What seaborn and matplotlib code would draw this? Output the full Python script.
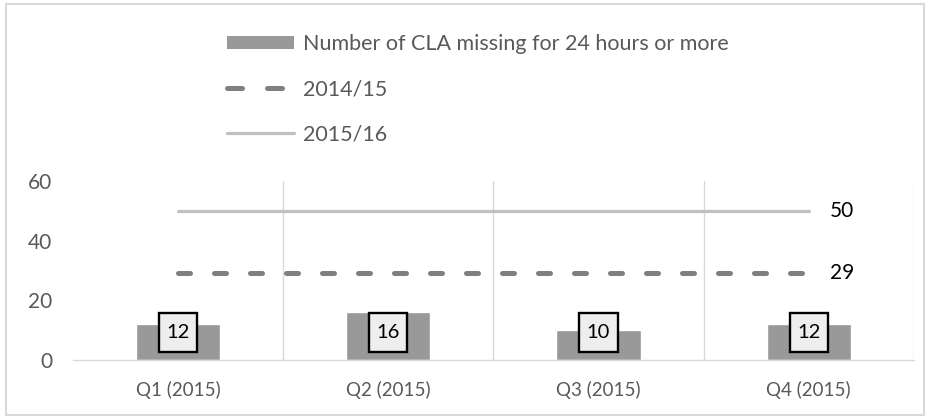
import matplotlib
matplotlib.use("Agg")
import matplotlib.pyplot as plt
from matplotlib.patches import Patch, Rectangle
from matplotlib.lines import Line2D
from matplotlib.path import Path
import seaborn as sns
import pandas as pd

quarters = ["Q1 (2015)", "Q2 (2015)", "Q3 (2015)", "Q4 (2015)"]
missing_24h = [12, 16, 10, 12]
avg_2014_15 = [29, 29, 29, 29]
avg_2015_16 = [50, 50, 50, 50]
y_ticks = [0, 20, 40, 60]

sns.set_theme(style="white")
plt.rcParams["font.family"] = ["Lato", "DejaVu Sans"]

DPI = 100


def label_box(x0, y0, width, height, mutation_size):
    """Fixed-size box (27.5 x 28 pt) centred on the label text."""
    w = 27.5 * DPI / 72
    h = 28 * DPI / 72
    cx = x0 + width / 2
    cy = y0 + height / 2
    verts = [(cx - w / 2, cy - h / 2), (cx + w / 2, cy - h / 2),
             (cx + w / 2, cy + h / 2), (cx - w / 2, cy + h / 2),
             (cx - w / 2, cy - h / 2)]
    codes = [Path.MOVETO] + [Path.LINETO] * 3 + [Path.CLOSEPOLY]
    return Path(verts, codes)


df = pd.DataFrame({"quarter": quarters, "missing": missing_24h})

fig = plt.figure(figsize=(9.29, 4.17), dpi=DPI)
ax = fig.add_axes([0.0786, 0.137, 0.905, 0.429])

sns.barplot(data=df, x="quarter", y="missing", color="#999999", saturation=1,
            width=0.4, ax=ax, zorder=2)

xs = list(range(len(quarters)))
ax.plot(xs, avg_2014_15, color="#7f7f7f", lw=3.6, dashes=(2.4, 4.8),
        dash_capstyle="round", zorder=3)
ax.plot(xs, avg_2015_16, color="#c0c0c0", lw=2.3, zorder=3)

# end labels for the two reference lines
ax.text(xs[-1] + 0.1, avg_2015_16[-1], str(avg_2015_16[-1]), ha="left",
        va="center", fontsize=15, color="black")
ax.text(xs[-1] + 0.1, avg_2014_15[-1], str(avg_2014_15[-1]), ha="left",
        va="center", fontsize=15, color="black")

# boxed value labels near the base of each bar
for x, v in zip(xs, missing_24h):
    ax.annotate(str(v), xy=(x, 0), xytext=(0, 19.5), textcoords="offset points",
                ha="center", va="center", fontsize=14.5, color="black",
                bbox=dict(boxstyle=label_box, fc="#eeeeee",
                          ec="black", lw=1.7), zorder=5)

ax.set_xlim(-0.5, 3.5)
ax.set_ylim(0, 60)
ax.set_yticks(y_ticks)
ax.set_yticklabels([str(t) for t in y_ticks], fontsize=15, color="#595959")
ax.set_xticks(xs)
ax.set_xticklabels(quarters, fontsize=13.5, color="#595959")
ax.tick_params(axis="x", pad=15, length=0)
ax.tick_params(axis="y", pad=15, length=0)
ax.set_xlabel("")
ax.set_ylabel("")

for gx in [0.5, 1.5, 2.5, 3.5]:
    ax.axvline(gx, color="#d9d9d9", lw=1, zorder=1)

for s in ["top", "right", "left"]:
    ax.spines[s].set_visible(False)
ax.spines["bottom"].set_color("#d9d9d9")
ax.spines["bottom"].set_linewidth(1)

handles = [
    Patch(facecolor="#999999", edgecolor="none"),
    Line2D([], [], color="#7f7f7f", lw=3.6, dashes=(3.0, 5.0),
           dash_capstyle="round"),
    Line2D([], [], color="#c0c0c0", lw=2.3),
]
labels = ["Number of CLA missing for 24 hours or more", "2014/15", "2015/16"]
fig.legend(handles, labels, loc="upper left", bbox_to_anchor=(0.2443, 0.918),
           frameon=False, fontsize=15.5, labelcolor="#595959",
           handlelength=3.1, handleheight=0.56, handletextpad=0.42,
           labelspacing=1.17, borderpad=0, borderaxespad=0)

fig.patches.append(Rectangle((6 / 929, 2 / 417), 918 / 929, 411 / 417,
                             transform=fig.transFigure, fill=False,
                             ec="#d9d9d9", lw=1.5))

fig.savefig("out.png", dpi=DPI)
